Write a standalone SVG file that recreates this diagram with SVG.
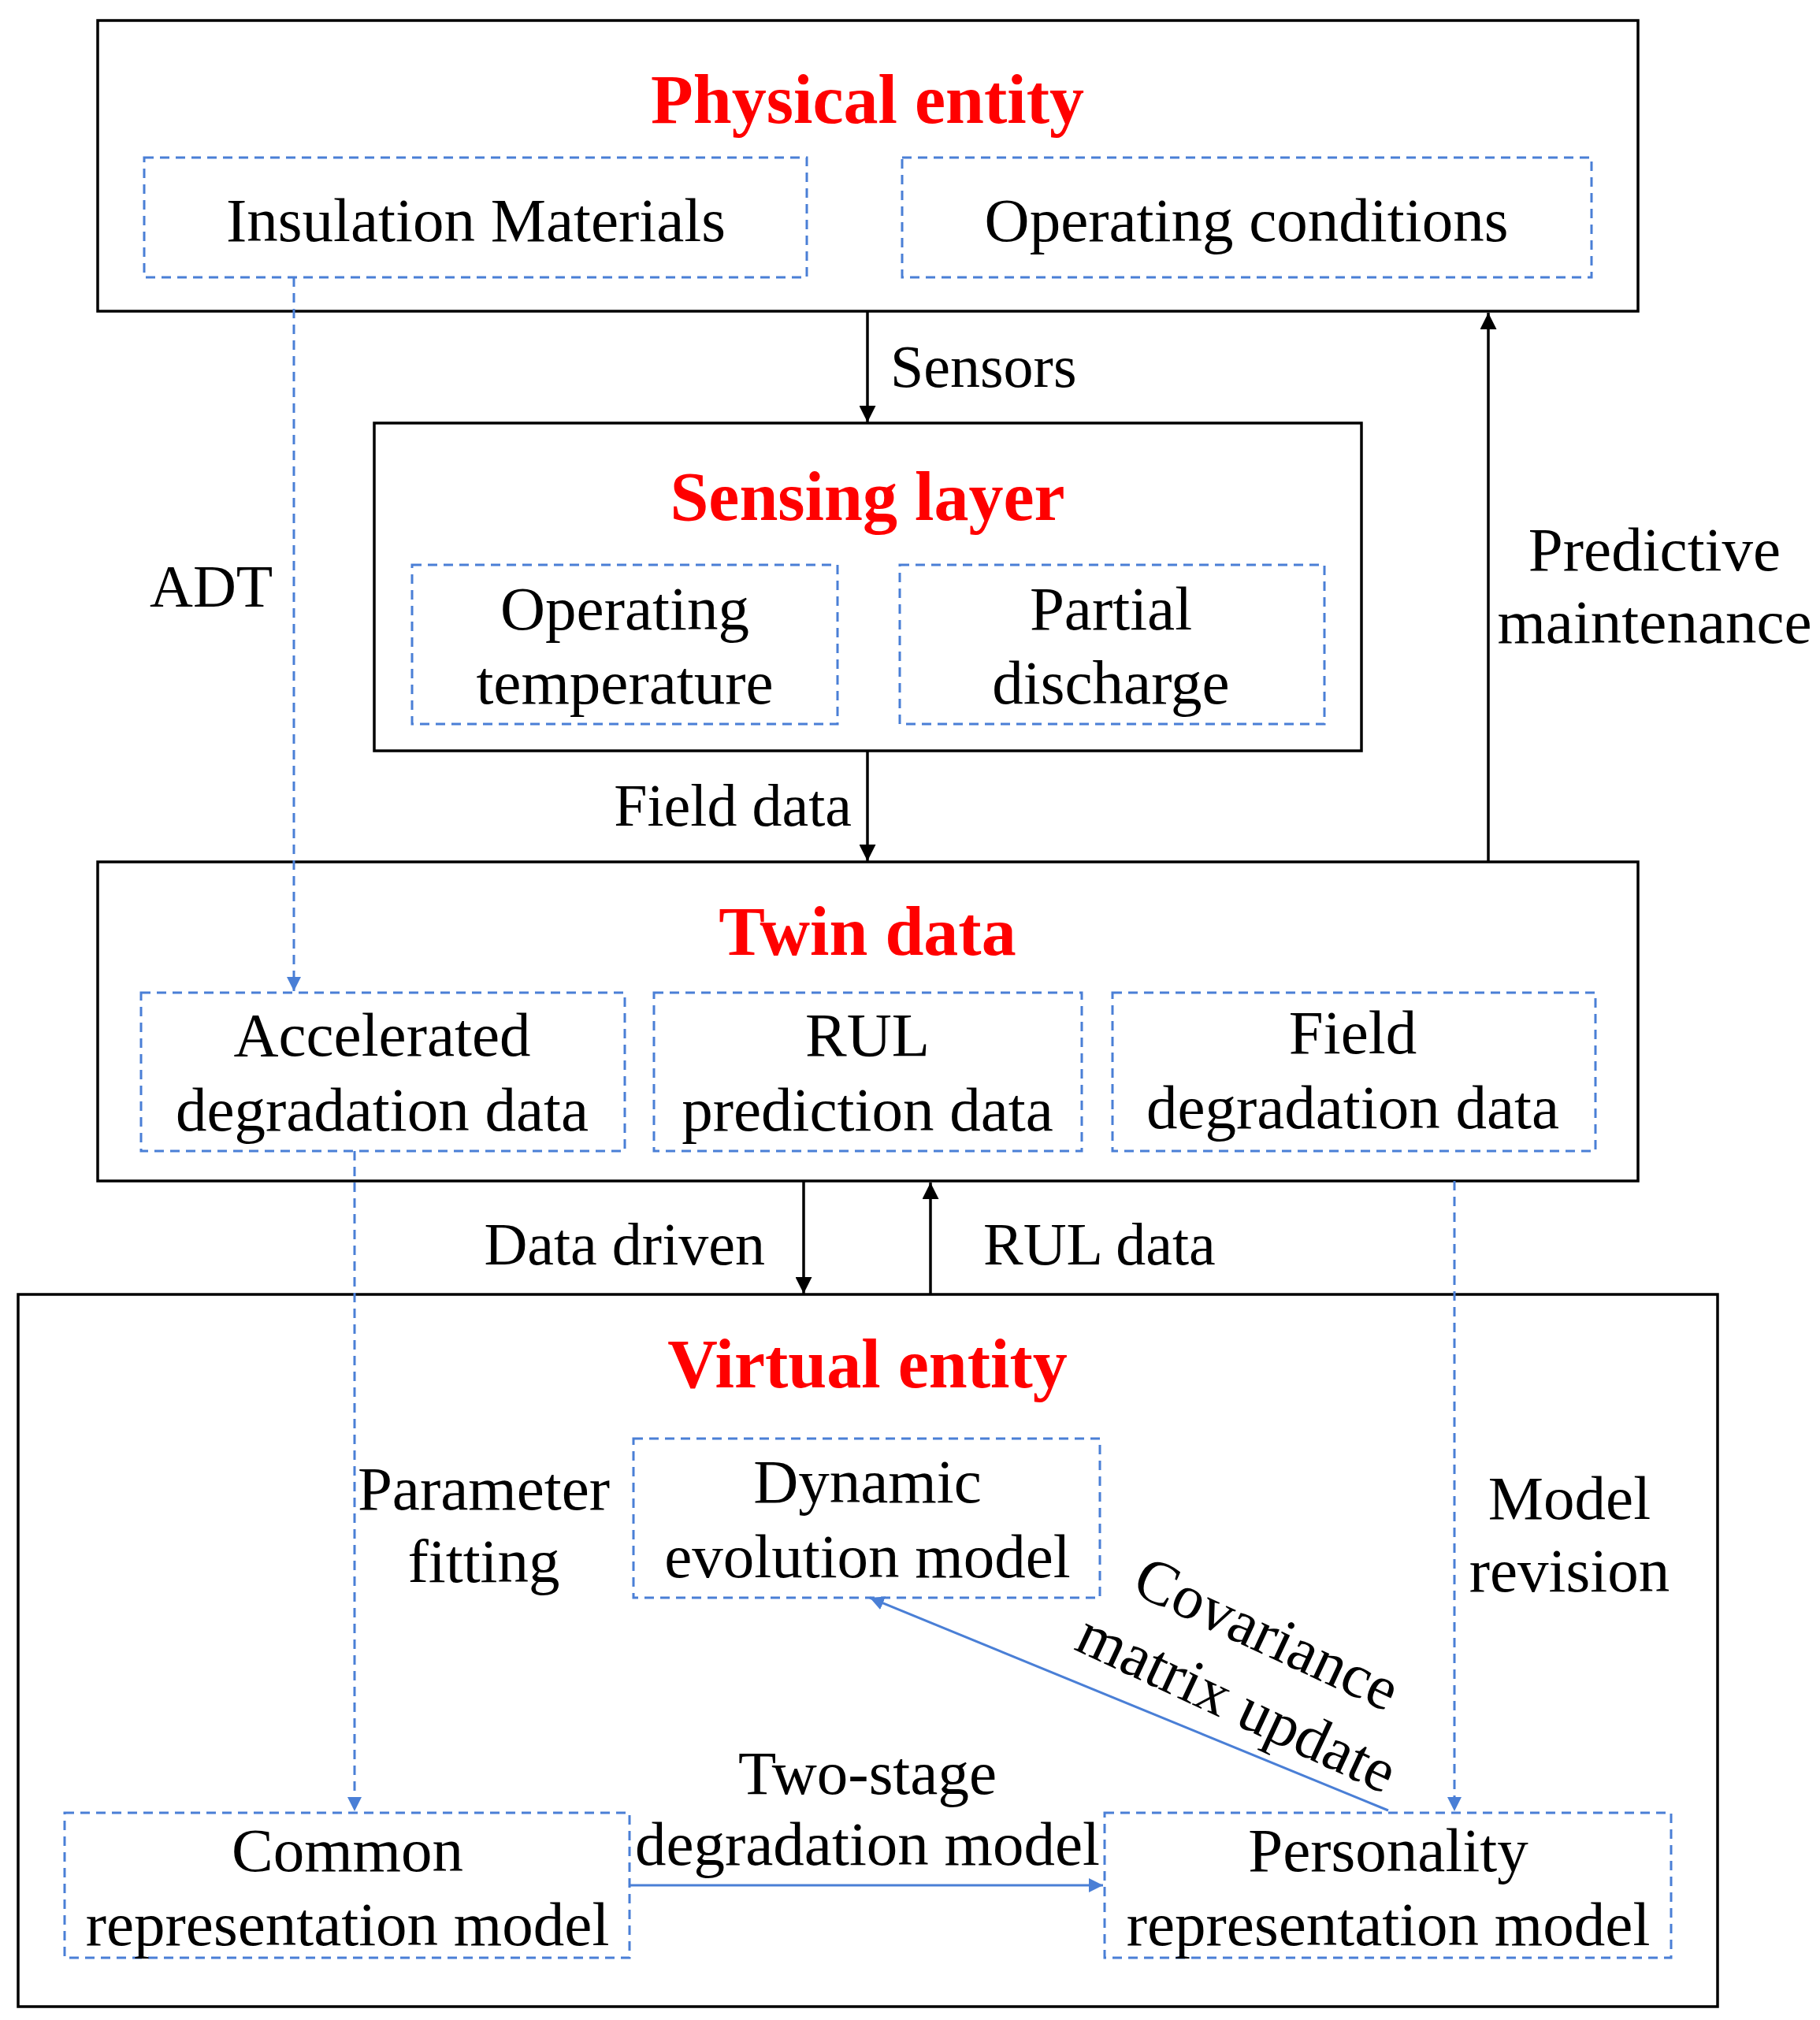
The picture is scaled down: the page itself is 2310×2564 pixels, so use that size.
<svg xmlns="http://www.w3.org/2000/svg" width="2310" height="2564" viewBox="0 0 2310 2564">
<defs>
<style>
.box{fill:none;stroke:#000;stroke-width:3.5}
.dbox{fill:none;stroke:#4a7fd6;stroke-width:3;stroke-dasharray:12 8}
.t{font-family:"Liberation Serif",serif;font-size:79px;fill:#000;text-anchor:middle}
.l{font-family:"Liberation Serif",serif;font-size:76px;fill:#000}
.h{font-family:"Liberation Serif",serif;font-size:88px;font-weight:bold;fill:#f00;text-anchor:middle}
.k{stroke:#000;stroke-width:3.5;fill:none}
.b{stroke:#4a7fd6;stroke-width:3;fill:none}
.bd{stroke:#4a7fd6;stroke-width:3;fill:none;stroke-dasharray:12 8}
</style>
<marker id="ak" viewBox="0 0 10 10" refX="10" refY="5" markerWidth="6" markerHeight="6" orient="auto"><path d="M0,0L10,5L0,10z" fill="#000"/></marker>
<marker id="ab" viewBox="0 0 10 10" refX="10" refY="5" markerWidth="6" markerHeight="6" orient="auto"><path d="M0,0L10,5L0,10z" fill="#4a7fd6"/></marker>
</defs>
<rect width="2310" height="2564" fill="#fff"/>
<g id="physical"><rect class="box" x="124" y="26" width="1955" height="369"/><text class="h" x="1101" y="156">Physical entity</text></g>
<g id="insulation"><rect class="dbox" x="183" y="200" width="841" height="152"/><text class="t" x="604" y="306">Insulation Materials</text></g>
<g id="operating"><rect class="dbox" x="1145" y="200" width="875" height="152"/><text class="t" x="1582" y="306">Operating conditions</text></g>
<g id="sensing"><rect class="box" x="475" y="537" width="1253" height="416"/><text class="h" x="1101" y="660">Sensing layer</text></g>
<g id="optemp"><rect class="dbox" x="523" y="717" width="540" height="202"/><text class="t" x="793" y="799">Operating</text><text class="t" x="793" y="893">temperature</text></g>
<g id="pd"><rect class="dbox" x="1142" y="717" width="539" height="202"/><text class="t" x="1410" y="799">Partial</text><text class="t" x="1410" y="893">discharge</text></g>
<g id="twin"><rect class="box" x="124" y="1094" width="1955" height="405"/><text class="h" x="1101" y="1212">Twin data</text></g>
<g id="acc"><rect class="dbox" x="179" y="1260" width="614" height="201"/><text class="t" x="485" y="1340">Accelerated</text><text class="t" x="485" y="1435">degradation data</text></g>
<g id="rul"><rect class="dbox" x="830" y="1260" width="543" height="201"/><text class="t" x="1101" y="1340">RUL</text><text class="t" x="1101" y="1435">prediction data</text></g>
<g id="field"><rect class="dbox" x="1412" y="1260" width="613" height="201"/><text class="t" x="1717" y="1337">Field</text><text class="t" x="1717" y="1432">degradation data</text></g>
<g id="virtual"><rect class="box" x="23" y="1643" width="2157" height="904"/><text class="h" x="1101" y="1761">Virtual entity</text></g>
<g id="dynamic"><rect class="dbox" x="804" y="1826" width="592" height="202"/><text class="t" x="1101" y="1907">Dynamic</text><text class="t" x="1101" y="2002">evolution model</text></g>
<g id="common"><rect class="dbox" x="82" y="2301" width="717" height="184"/><text class="t" x="441" y="2375">Common</text><text class="t" x="441" y="2469">representation model</text></g>
<g id="personality"><rect class="dbox" x="1402" y="2301" width="719" height="184"/><text class="t" x="1762" y="2375">Personality</text><text class="t" x="1762" y="2469">representation model</text></g>
<g id="connectors">
<line class="k" x1="1101" y1="395" x2="1101" y2="536" marker-end="url(#ak)"/>
<text class="l" x="1130" y="491">Sensors</text>
<line class="k" x1="1101" y1="953" x2="1101" y2="1093" marker-end="url(#ak)"/>
<text class="l" x="1081" y="1048" text-anchor="end">Field data</text>
<line class="bd" x1="373" y1="352" x2="373" y2="1258" marker-end="url(#ab)"/>
<text class="l" x="190" y="770">ADT</text>
<line class="k" x1="1889" y1="1094" x2="1889" y2="397" marker-end="url(#ak)"/>
<text class="t" x="2100" y="724">Predictive</text><text class="t" x="2100" y="816">maintenance</text>
<line class="k" x1="1020" y1="1499" x2="1020" y2="1642" marker-end="url(#ak)"/>
<text class="l" x="971" y="1605" text-anchor="end">Data driven</text>
<line class="k" x1="1181" y1="1643" x2="1181" y2="1501" marker-end="url(#ak)"/>
<text class="l" x="1248" y="1605">RUL data</text>
<line class="bd" x1="450" y1="1461" x2="450" y2="2299" marker-end="url(#ab)"/>
<text class="t" x="614" y="1916">Parameter</text><text class="t" x="614" y="2008">fitting</text>
<line class="bd" x1="1846" y1="1499" x2="1846" y2="2299" marker-end="url(#ab)"/>
<text class="t" x="1992" y="1928">Model</text><text class="t" x="1992" y="2020">revision</text>
<line class="b" x1="1762" y1="2298" x2="1104" y2="2028" marker-end="url(#ab)"/>
<text class="t" transform="translate(1597,2097) rotate(25)">Covariance</text>
<text class="t" transform="translate(1559,2185) rotate(25)">matrix update</text>
<line class="b" x1="799" y1="2393" x2="1400" y2="2393" marker-end="url(#ab)"/>
<text class="t" x="1101" y="2277">Two-stage</text><text class="t" x="1101" y="2367">degradation model</text>
</g>
</svg>
